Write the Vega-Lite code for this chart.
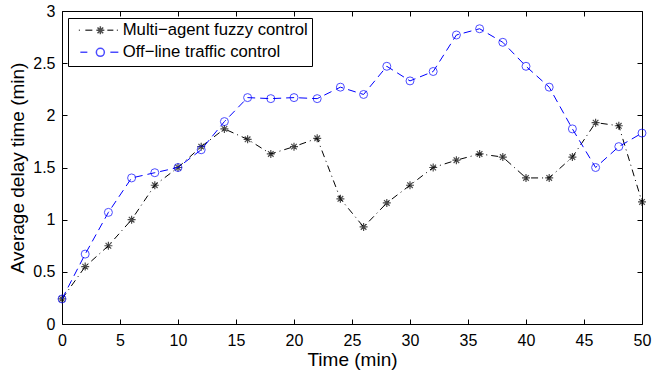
{
  "$schema": "https://vega.github.io/schema/vega-lite/v6.json",
  "width": 580,
  "height": 313,
  "autosize": {"type": "none"},
  "padding": {"left": 62, "top": 11, "right": 11, "bottom": 47},
  "background": "white",
  "config": {
    "view": {"stroke": null},
    "font": "Liberation Sans",
    "axis": {"grid": false, "labelFlush": false, "labelFont": "Liberation Sans", "titleFont": "Liberation Sans", "labelFontSize": 16, "titleFontSize": 19, "labelColor": "black", "titleColor": "black", "titleFontWeight": "normal", "domainColor": "black", "tickColor": "black", "domainWidth": 1, "tickWidth": 1}
  },
  "data": {"values": [
    {"t": 0, "series": "Multi−agent fuzzy control", "v": 0.24},
    {"t": 2, "series": "Multi−agent fuzzy control", "v": 0.55},
    {"t": 4, "series": "Multi−agent fuzzy control", "v": 0.75},
    {"t": 6, "series": "Multi−agent fuzzy control", "v": 1.0},
    {"t": 8, "series": "Multi−agent fuzzy control", "v": 1.33},
    {"t": 10, "series": "Multi−agent fuzzy control", "v": 1.5},
    {"t": 12, "series": "Multi−agent fuzzy control", "v": 1.7},
    {"t": 14, "series": "Multi−agent fuzzy control", "v": 1.87},
    {"t": 16, "series": "Multi−agent fuzzy control", "v": 1.77},
    {"t": 18, "series": "Multi−agent fuzzy control", "v": 1.63},
    {"t": 20, "series": "Multi−agent fuzzy control", "v": 1.7},
    {"t": 22, "series": "Multi−agent fuzzy control", "v": 1.78},
    {"t": 24, "series": "Multi−agent fuzzy control", "v": 1.2},
    {"t": 26, "series": "Multi−agent fuzzy control", "v": 0.93},
    {"t": 28, "series": "Multi−agent fuzzy control", "v": 1.16},
    {"t": 30, "series": "Multi−agent fuzzy control", "v": 1.33},
    {"t": 32, "series": "Multi−agent fuzzy control", "v": 1.5},
    {"t": 34, "series": "Multi−agent fuzzy control", "v": 1.57},
    {"t": 36, "series": "Multi−agent fuzzy control", "v": 1.63},
    {"t": 38, "series": "Multi−agent fuzzy control", "v": 1.6},
    {"t": 40, "series": "Multi−agent fuzzy control", "v": 1.4},
    {"t": 42, "series": "Multi−agent fuzzy control", "v": 1.4},
    {"t": 44, "series": "Multi−agent fuzzy control", "v": 1.6},
    {"t": 46, "series": "Multi−agent fuzzy control", "v": 1.93},
    {"t": 48, "series": "Multi−agent fuzzy control", "v": 1.9},
    {"t": 50, "series": "Multi−agent fuzzy control", "v": 1.17},
    {"t": 0, "series": "Off−line traffic control", "v": 0.24},
    {"t": 2, "series": "Off−line traffic control", "v": 0.67},
    {"t": 4, "series": "Off−line traffic control", "v": 1.07},
    {"t": 6, "series": "Off−line traffic control", "v": 1.4},
    {"t": 8, "series": "Off−line traffic control", "v": 1.45},
    {"t": 10, "series": "Off−line traffic control", "v": 1.5},
    {"t": 12, "series": "Off−line traffic control", "v": 1.67},
    {"t": 14, "series": "Off−line traffic control", "v": 1.94},
    {"t": 16, "series": "Off−line traffic control", "v": 2.17},
    {"t": 18, "series": "Off−line traffic control", "v": 2.16},
    {"t": 20, "series": "Off−line traffic control", "v": 2.17},
    {"t": 22, "series": "Off−line traffic control", "v": 2.16},
    {"t": 24, "series": "Off−line traffic control", "v": 2.27},
    {"t": 26, "series": "Off−line traffic control", "v": 2.2},
    {"t": 28, "series": "Off−line traffic control", "v": 2.47},
    {"t": 30, "series": "Off−line traffic control", "v": 2.33},
    {"t": 32, "series": "Off−line traffic control", "v": 2.42},
    {"t": 34, "series": "Off−line traffic control", "v": 2.77},
    {"t": 36, "series": "Off−line traffic control", "v": 2.83},
    {"t": 38, "series": "Off−line traffic control", "v": 2.7},
    {"t": 40, "series": "Off−line traffic control", "v": 2.47},
    {"t": 42, "series": "Off−line traffic control", "v": 2.27},
    {"t": 44, "series": "Off−line traffic control", "v": 1.87},
    {"t": 46, "series": "Off−line traffic control", "v": 1.5},
    {"t": 48, "series": "Off−line traffic control", "v": 1.7},
    {"t": 50, "series": "Off−line traffic control", "v": 1.83}
  ]},
  "resolve": {"axis": {"x": "independent", "y": "independent"}},
  "layer": [
    {
      "transform": [{"filter": {"field": "series", "equal": "Multi−agent fuzzy control"}}],
      "mark": {"type": "line", "color": "black", "strokeWidth": 1, "strokeDash": [7, 4, 1, 4]},
      "encoding": {
        "x": {"field": "t", "type": "quantitative", "scale": {"domain": [0, 50], "nice": false},
          "axis": {"values": [0, 5, 10, 15, 20, 25, 30, 35, 40, 45, 50], "tickSize": -5, "labelPadding": 13, "title": "Time (min)", "titlePadding": 2}},
        "y": {"field": "v", "type": "quantitative", "scale": {"domain": [0, 3], "nice": false},
          "axis": {"values": [0, 0.5, 1, 1.5, 2, 2.5, 3], "format": "~g", "tickSize": -5, "labelPadding": 12, "title": "Average delay time (min)", "titlePadding": 5}}
      }
    },
    {
      "transform": [{"filter": {"field": "series", "equal": "Multi−agent fuzzy control"}}],
      "mark": {"type": "point", "filled": false, "color": "black", "strokeWidth": 1.2, "size": 64,
        "shape": "M-1,0H1M0,-1V1M-0.7,-0.7L0.7,0.7M-0.7,0.7L0.7,-0.7"},
      "encoding": {
        "x": {"field": "t", "type": "quantitative", "axis": null},
        "y": {"field": "v", "type": "quantitative", "axis": null}
      }
    },
    {
      "transform": [{"filter": {"field": "series", "equal": "Off−line traffic control"}}],
      "mark": {"type": "line", "color": "#0000ff", "strokeWidth": 1, "strokeDash": [8, 5]},
      "encoding": {
        "x": {"field": "t", "type": "quantitative", "axis": null},
        "y": {"field": "v", "type": "quantitative", "axis": null}
      }
    },
    {
      "transform": [{"filter": {"field": "series", "equal": "Off−line traffic control"}}],
      "mark": {"type": "point", "filled": false, "color": "#0000ff", "strokeWidth": 1, "size": 64, "shape": "circle"},
      "encoding": {
        "x": {"field": "t", "type": "quantitative", "axis": null},
        "y": {"field": "v", "type": "quantitative", "axis": null}
      }
    },
    {
      "transform": [{"filter": {"field": "t", "gt": 100}}],
      "mark": {"type": "point", "filled": false, "size": 100, "strokeWidth": 1},
      "encoding": {
        "x": {"field": "t", "type": "quantitative",
          "axis": {"orient": "top", "values": [0, 5, 10, 15, 20, 25, 30, 35, 40, 45, 50], "labels": false, "tickSize": -5, "title": null}},
        "y": {"field": "v", "type": "quantitative",
          "axis": {"orient": "right", "values": [0, 0.5, 1, 1.5, 2, 2.5, 3], "labels": false, "tickSize": -5, "title": null}},
        "color": {"field": "series", "type": "nominal",
          "scale": {"domain": ["Multi−agent fuzzy control", "Off−line traffic control"], "range": ["black", "#0000ff"]},
          "legend": {"title": null, "orient": "none", "legendX": 6, "legendY": 7, "padding": 4, "rowPadding": 4,
            "fillColor": "white", "strokeColor": "black", "cornerRadius": 0,
            "labelFont": "Liberation Sans", "labelFontSize": 16.7, "labelColor": "black", "labelLimit": 0, "labelOffset": 34,
            "symbolSize": 100}},
        "shape": {"field": "series", "type": "nominal",
          "scale": {"domain": ["Multi−agent fuzzy control", "Off−line traffic control"],
            "range": ["M-0.3,0H-0.1M1,0H2.4M3.2,0H4.8M4,-0.8V0.8M3.43,-0.57L4.57,0.57M3.43,0.57L4.57,-0.57M5.4,0H6.6M7.3,0H7.5",
                      "M0,0H1.4M4.8,0A0.8,0.8 0 1,1 3.2,0A0.8,0.8 0 1,1 4.8,0M6,0H7.6"]},
          "legend": {"title": null, "orient": "none", "legendX": 6, "legendY": 7, "padding": 4, "rowPadding": 4,
            "fillColor": "white", "strokeColor": "black", "cornerRadius": 0,
            "labelFont": "Liberation Sans", "labelFontSize": 16.7, "labelColor": "black", "labelLimit": 0, "labelOffset": 34,
            "symbolSize": 100}}
      }
    }
  ]
}
